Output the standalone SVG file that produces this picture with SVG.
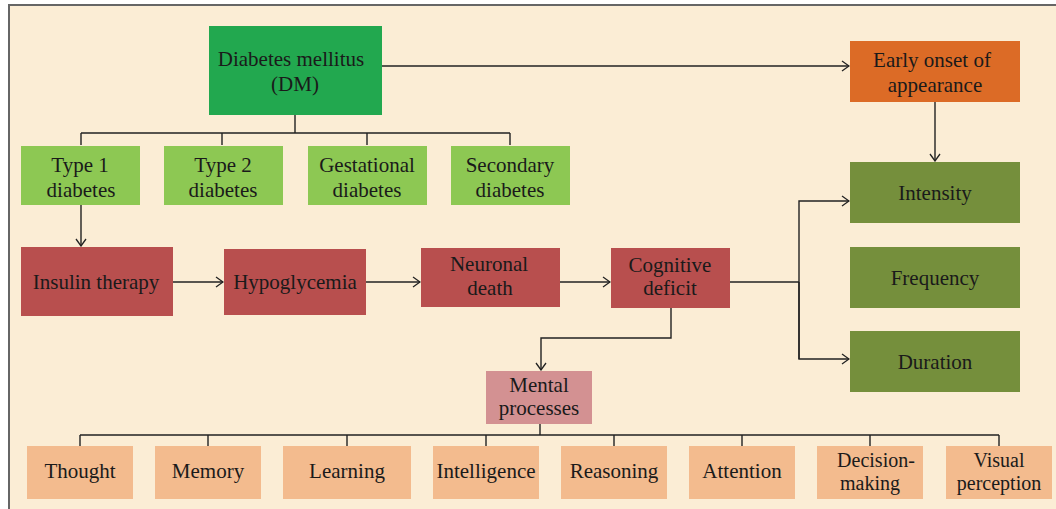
<svg xmlns="http://www.w3.org/2000/svg" width="1056" height="509" viewBox="0 0 1056 509">
<defs>
<style>
text{font-family:"Liberation Serif","DejaVu Serif",serif;font-size:21px;fill:#1a1a1a;text-anchor:middle}
text.s{font-size:20px}
.ln{fill:none;stroke:#222;stroke-width:1.4}
.dm{fill:#22A84F}.ty{fill:#8DC853}.eo{fill:#DC6B26}.ol{fill:#758F3C}.rd{fill:#B84F4E}.mp{fill:#D39192}.pc{fill:#F3BB8E}
</style>
<marker id="ar" markerUnits="userSpaceOnUse" markerWidth="10" markerHeight="12" viewBox="0 0 10 12" refX="9" refY="6" orient="auto">
<path d="M2,1 L9,6 L2,11" fill="none" stroke="#222" stroke-width="1.3"/>
</marker>
</defs>
<rect x="0" y="0" width="1056" height="509" fill="#ffffff"/>
<rect x="9" y="5" width="1080" height="540" fill="#FBEDD5" stroke="#666" stroke-width="2"/>

<g id="connectors">
<path class="ln" d="M295,115 V133 M81,133 H510 M81,133 V145 M222,133 V145 M367,133 V145 M510,133 V145"/>
<path class="ln" d="M382,66 H849" marker-end="url(#ar)"/>
<path class="ln" d="M935,102 V161" marker-end="url(#ar)"/>
<path class="ln" d="M81,205 V246" marker-end="url(#ar)"/>
<path class="ln" d="M173,282 H223" marker-end="url(#ar)"/>
<path class="ln" d="M366,282 H420" marker-end="url(#ar)"/>
<path class="ln" d="M560,282 H610" marker-end="url(#ar)"/>
<path class="ln" d="M730,282 H799"/>
<path class="ln" d="M799,359 V201 H849" marker-end="url(#ar)"/>
<path class="ln" d="M799,282 V359 H849" marker-end="url(#ar)"/>
<path class="ln" d="M671,308 V338 H541 V370" marker-end="url(#ar)"/>
<path class="ln" d="M540,424 V435" stroke-width="3"/>
<path class="ln" d="M80,435 H999 M80,435 V446 M208,435 V446 M347,435 V446 M486,435 V446 M614,435 V446 M742,435 V446 M870,435 V446 M999,435 V446"/>
</g>

<g id="dm"><rect class="dm" x="209" y="26" width="173" height="89"/><text x="291" y="66">Diabetes mellitus</text><text x="295" y="91">(DM)</text></g>
<g id="early"><rect class="eo" x="850" y="41" width="170" height="61"/><text x="932" y="67">Early onset of</text><text x="935" y="92">appearance</text></g>

<g id="type1"><rect class="ty" x="21" y="146" width="119" height="59"/><text x="80" y="172">Type 1</text><text x="81" y="197">diabetes</text></g>
<g id="type2"><rect class="ty" x="164" y="146" width="119" height="59"/><text x="223" y="172">Type 2</text><text x="223" y="197">diabetes</text></g>
<g id="gest"><rect class="ty" x="308" y="146" width="119" height="59"/><text x="367" y="172">Gestational</text><text x="367" y="197">diabetes</text></g>
<g id="sec"><rect class="ty" x="451" y="146" width="119" height="59"/><text x="510" y="172">Secondary</text><text x="510" y="197">diabetes</text></g>

<g id="intensity"><rect class="ol" x="850" y="162" width="170" height="61"/><text x="935" y="200">Intensity</text></g>
<g id="frequency"><rect class="ol" x="850" y="247" width="170" height="61"/><text x="935" y="285">Frequency</text></g>
<g id="duration"><rect class="ol" x="850" y="331" width="170" height="61"/><text x="935" y="369">Duration</text></g>

<g id="insulin"><rect class="rd" x="21" y="247" width="152" height="69"/><text x="96" y="289">Insulin therapy</text></g>
<g id="hypo"><rect class="rd" x="224" y="249" width="142" height="66"/><text x="295" y="289">Hypoglycemia</text></g>
<g id="neuronal"><rect class="rd" x="421" y="248" width="139" height="59"/><text x="489" y="271">Neuronal</text><text x="490" y="295">death</text></g>
<g id="cognitive"><rect class="rd" x="611" y="248" width="119" height="60"/><text x="670" y="272">Cognitive</text><text x="670" y="295">deficit</text></g>

<g id="mental"><rect class="mp" x="486" y="371" width="106" height="53"/><text x="539" y="392">Mental</text><text x="539" y="415">processes</text></g>

<g id="thought"><rect class="pc" x="27" y="446" width="106" height="53"/><text x="80" y="478">Thought</text></g>
<g id="memory"><rect class="pc" x="155" y="446" width="106" height="53"/><text x="208" y="478">Memory</text></g>
<g id="learning"><rect class="pc" x="283" y="446" width="128" height="53"/><text x="347" y="478">Learning</text></g>
<g id="intelligence"><rect class="pc" x="433" y="446" width="106" height="53"/><text x="486" y="478">Intelligence</text></g>
<g id="reasoning"><rect class="pc" x="561" y="446" width="106" height="53"/><text x="614" y="478">Reasoning</text></g>
<g id="attention"><rect class="pc" x="689" y="446" width="106" height="53"/><text x="742" y="478">Attention</text></g>
<g id="decision"><rect class="pc" x="817" y="446" width="106" height="53"/><text class="s" x="876" y="467">Decision-</text><text class="s" x="870" y="490">making</text></g>
<g id="visual"><rect class="pc" x="946" y="446" width="106" height="53"/><text class="s" x="999" y="467">Visual</text><text class="s" x="999" y="490">perception</text></g>
</svg>
